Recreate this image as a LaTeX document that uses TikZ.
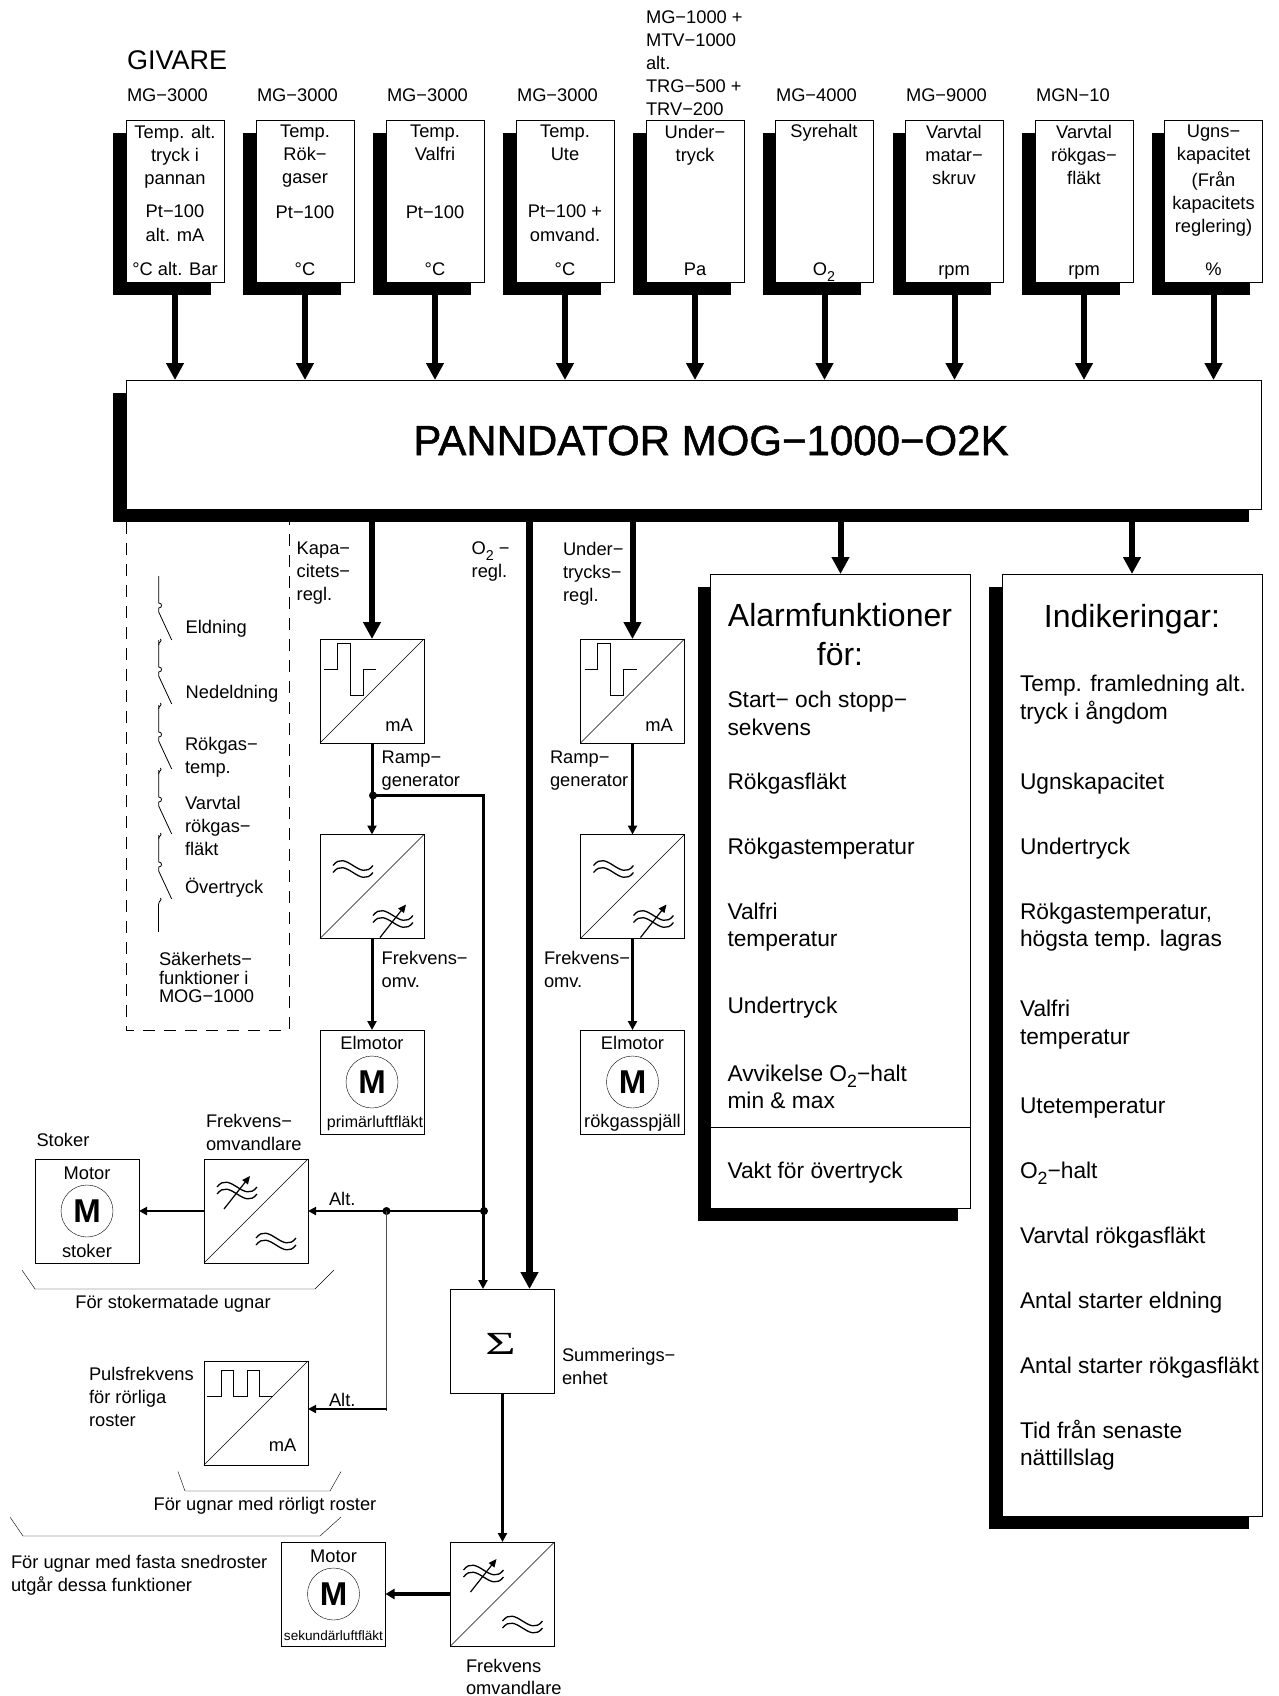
\documentclass[tikz,border=0pt]{standalone}
\usepackage{fontspec}
\setmainfont{Liberation Sans}
\newfontfamily\serifsym{Liberation Serif}
\newfontfamily\titlefont[FakeBold=1.2]{Liberation Sans}
\usetikzlibrary{arrows.meta,shadows}
\newcommand\Otwo{O\raisebox{-.28em}{\scalebox{.78}{2}}}
\tikzset{
  x=1pt,y=-1pt,
  line width=1pt,
  tx/.style 2 args={font=\fontsize{#1}{#2}\selectfont,inner sep=0pt,outer sep=0pt,
     yshift={#2*0.7pt},execute at begin node={\rule{0pt}{\dimexpr #2pt*7/10\relax}}},
  t18/.style={tx={18.3}{23}},
  t22/.style={tx={22.75}{27.4}},
  lt/.style={anchor=north west,align=left},
  ct/.style={anchor=north,align=center},
  ml/.style={yshift=-3.3pt},
  plain/.style={draw,fill=white,inner sep=0pt,outer sep=0pt,anchor=north west},
  sbox/.style={plain,general shadow={fill=black,shadow xshift=-13pt,shadow yshift=-13pt}},
  sq/.style={plain,minimum width=104pt,minimum height=104pt},
  top/.style={sbox,minimum width=98pt,minimum height=162pt},
  big/.style={line width=6pt,-{Triangle[length=17pt,width=17pt]}},
  huge/.style={line width=7pt,-{Triangle[length=17pt,width=17pt]}},
  mid/.style={line width=3pt,-{Triangle[length=9pt,width=9pt]}},
  small/.style={line width=2pt,-{Triangle[length=8pt,width=8pt]}},
  dot/.style={circle,fill=black,inner sep=0pt,minimum size=8pt},
  motor/.style={circle,draw,inner sep=0pt,minimum size=52pt,font=\fontsize{33}{33}\bfseries\selectfont},
  wave/.style={line width=1.3pt},
}
% symbols, placed relative to the converter box named #1
\newcommand\diag[1]{\draw (#1.south west) -- (#1.north east);}
\newcommand\waves[3]{\begin{scope}[shift={(#1.north west)},wave]
  \draw (#2,#3) .. controls (#2+13,#3-17) and (#2+27,#3+17) .. (#2+40,#3);
  \draw (#2,#3+7) .. controls (#2+13,#3-10) and (#2+27,#3+24) .. (#2+40,#3+7);
\end{scope}}
\newcommand\varwaves[3]{\waves{#1}{#2}{#3}
  \begin{scope}[shift={(#1.north west)}]
  \draw[line width=1.2pt,-{Triangle[length=8pt,width=7pt]}] (#2+7,#3+22) -- (#2+33,#3-11);
\end{scope}}
\newcommand\stepsym[1]{\begin{scope}[shift={(#1.north west)}]
  \draw (4,30)--(17,30)--(17,4)--(30,4)--(30,56.5)--(43,56.5)--(43,30)--(56,30);
\end{scope}}
\begin{document}
\begin{tikzpicture}
\useasboundingbox (0,0) rectangle (1278,1696);

% main computer
\node[sbox,minimum width=1135.5pt,minimum height=129pt] (main) at (126,380) {};
\node[tx={42}{50},ct,font=\fontsize{42}{50}\titlefont\selectfont] (maintxt) at (711,455) {PANNDATOR MOG−1000−O2K};

% sensors
\foreach \n/\x in {b1/126,b2/256,b3/386,b4/516,b5/646,b6/775.5,b7/905.5,b8/1035,b9/1164.5}{
  \node[top] (\n) at (\x,120) {};
  \draw[big] (\n.south) -- (\n.south |- main.north);
}
\node[tx={27}{32},lt] (givare) at (127,70) {GIVARE};
\node[t18,lt] (l1) at (127,102) {MG−3000};
\node[t18,lt] (l2) at (257,102) {MG−3000};
\node[t18,lt] (l3) at (387,102) {MG−3000};
\node[t18,lt] (l4) at (517,102) {MG−3000};
\node[t18,lt,ml,yshift=-1pt] (l5) at (646,23) {MG−1000 +\\MTV−1000\\alt.\\TRG−500 +\\TRV−200};
\node[t18,lt] (l6) at (776,102) {MG−4000};
\node[t18,lt] (l7) at (906,102) {MG−9000};
\node[t18,lt] (l8) at (1036,102) {MGN−10};

\node[t18,ct,ml] (b1a) at (175,138) {Temp. alt.\\tryck i\\pannan};
\node[tx={18.3}{24},ct,ml] (b1b) at (175,218.5) {Pt−100\\alt. mA};
\node[t18,ct] (b1c) at (175,276) {°C alt. Bar};
\node[t18,ct,ml] (b2a) at (305,138) {Temp.\\Rök−\\gaser};
\node[t18,ct] (b2b) at (305,218.5) {Pt−100};
\node[t18,ct] (b2c) at (305,276) {°C};
\node[t18,ct,ml] (b3a) at (435,138) {Temp.\\Valfri};
\node[t18,ct] (b3b) at (435,218.5) {Pt−100};
\node[t18,ct] (b3c) at (435,276) {°C};
\node[t18,ct,ml] (b4a) at (565,138) {Temp.\\Ute};
\node[tx={18.3}{24},ct,ml] (b4b) at (565,218.5) {Pt−100 +\\omvand.};
\node[t18,ct] (b4c) at (565,276) {°C};
\node[t18,ct,ml] (b5a) at (695,138) {Under−\\tryck};
\node[t18,ct] (b5c) at (695,276) {Pa};
\node[t18,ct] (b6a) at (824,138) {Syrehalt};
\node[t18,ct] (b6c) at (824,276) {\Otwo};
\node[t18,ct,ml] (b7a) at (954,138) {Varvtal\\matar−\\skruv};
\node[t18,ct] (b7c) at (954,276) {rpm};
\node[t18,ct,ml] (b8a) at (1084,138) {Varvtal\\rökgas−\\fläkt};
\node[t18,ct] (b8c) at (1084,276) {rpm};
\node[t18,ct,ml] (b9a) at (1213.5,138) {Ugns−\\kapacitet};
\node[t18,ct,ml] (b9b) at (1213.5,184.7) {(Från\\kapacitets\\reglering)};
\node[t18,ct] (b9c) at (1213.5,276) {\%};

% safety functions
\draw[dash pattern=on 12pt off 9pt] (126,522) -- (126,1030) -- (289,1030) -- (289,522);
\foreach \y in {612,676,741,806,871}{
  \draw[line width=.8pt] (158.7,\y-36) -- (158.7,\y-9)
     .. controls (162.5,\y-9) and (162.5,\y-4) .. (158.7,\y-4) -- (158.7,\y) -- (171.7,\y+28);
  \draw[line width=.8pt] (158.7,\y+33) .. controls (158.7,\y+29) and (162.5,\y+30) .. (160.5,\y+27);
}
\draw[line width=.8pt] (158.7,904) -- (158.7,932);
\node[t18,lt] (s1) at (185.7,633.5) {Eldning};
\node[t18,lt] (s2) at (185.7,698) {Nedeldning};
\node[t18,lt,ml] (s3) at (185,750) {Rökgas−\\temp.};
\node[t18,lt,ml] (s4) at (185,809) {Varvtal\\rökgas−\\fläkt};
\node[t18,lt] (s5) at (185,893) {Övertryck};
\node[tx={18.3}{18.5},lt] (s6) at (159,965.5) {Säkerhets−\\funktioner i\\MOG−1000};

% left regulation chain
\node[sq] (a1) at (320,639) {};
\diag{a1}\stepsym{a1}
\node[t18,anchor=north] (a1t) at (399,731) {mA};
\node[sq] (a2) at (320,834.5) {};
\diag{a2}\waves{a2}{13}{31}\varwaves{a2}{53}{81}
\node[sq] (a3) at (320,1030) {};
\node[t18,anchor=north] (a3t) at (372,1049) {Elmotor};
\node[motor] (a3m) at (372,1082) {M};
\node[tx={16}{20},anchor=north] (a3b) at (375,1127) {primärluftfläkt};
\draw[big] (main.south -| a1.north) -- (a1.north);
\node[dot] (j1) at (373,795.5) {};
\draw[mid] (a1.south) -- (a2.north);
\draw[mid] (a2.south) -- (a3.north);
\node[t18,lt,ml] (kapa) at (296.7,555) {Kapa−\\citets−\\regl.};
\node[t18,lt,ml] (ramp1) at (381.7,764) {Ramp−\\generator};
\node[t18,lt,ml] (frek1) at (381.7,964) {Frekvens−\\omv.};

% O2 regulation
\node[t18,lt,ml] (o2) at (471.7,555) {\Otwo{} −\\regl.};

% right regulation chain
\node[sq] (c1) at (580.5,639) {};
\diag{c1}\stepsym{c1}
\node[t18,anchor=north] (c1t) at (659,731) {mA};
\node[sq] (c2) at (580.5,834.5) {};
\diag{c2}\waves{c2}{13}{31}\varwaves{c2}{53}{81}
\node[sq] (c3) at (580.5,1030) {};
\node[t18,anchor=north] (c3t) at (632.5,1049) {Elmotor};
\node[motor] (c3m) at (632.5,1082) {M};
\node[t18,anchor=north] (c3b) at (632.5,1127) {rökgasspjäll};
\draw[big] (main.south -| c1.north) -- (c1.north);
\draw[mid] (c1.south) -- (c2.north);
\draw[mid] (c2.south) -- (c3.north);
\node[t18,lt,ml] (under) at (563,555) {Under−\\trycks−\\regl.};
\node[t18,lt,ml] (ramp2) at (550,764) {Ramp−\\generator};
\node[t18,lt,ml] (frek2) at (544,964) {Frekvens−\\omv.};

% summing unit
\node[sq] (sum) at (450.5,1289) {};
\node[inner sep=0pt,font=\fontsize{52}{52}\serifsym\selectfont] (sigma) at (500.5,1344) {\scalebox{1}[.62]{Σ}};
\coordinate (sumA) at (483,1289);
\coordinate (sumB) at (529.5,1289);
\coordinate (corner) at (483,795.5);
\node[dot] (j2) at (484,1211) {};
\draw[mid] (j1.center) -- (corner) -- (sumA);
\draw[huge] (main.south -| sumB) -- (sumB);
\node[t18,lt,ml] (sumt) at (562,1361) {Summerings−\\enhet};

% stoker branch
\node[sq] (f1) at (204,1159) {};
\diag{f1}\varwaves{f1}{13}{28}\waves{f1}{52}{79}
\node[sq] (m1) at (35,1159) {};
\node[t18,anchor=north] (m1t) at (87,1179) {Motor};
\node[motor] (m1m) at (87,1211) {M};
\node[t18,anchor=north] (m1b) at (87,1257) {stoker};
\node[dot] (j3) at (386.5,1211) {};
\draw[line width=2.5pt] (j2.center) -- (j3.center);
\draw[small] (j3.center) -- (f1.east);
\draw[small] (f1.west) -- (m1.east);
\node[t18,lt] (stoker) at (36.5,1146) {Stoker};
\node[t18,lt,ml] (frek3) at (206,1127) {Frekvens−\\omvandlare};
\node[t18,lt] (alt1) at (329,1205.5) {Alt.};
\draw (22,1270) -- (35,1289) -- (315,1289) -- (334,1270);
\node[t18,anchor=north] (stokfor) at (173,1308) {För stokermatade ugnar};

% pulse branch
\node[sq] (p1) at (204,1361) {};
\diag{p1}
\begin{scope}[shift={(p1.north west)}]
  \draw (3,35.6)--(17,35.6)--(17,9)--(29.5,9)--(29.5,35.6)--(43,35.6)--(43,9)--(55.5,9)--(55.5,35.6)--(68.5,35.6);
\end{scope}
\node[t18,anchor=north] (p1t) at (282.5,1451.7) {mA};
\coordinate (p1in) at (386.5,1409);
\draw[line width=1.6pt,black!70] (j3.center) -- (386.5,1411);
\draw[small] (p1in) -- (p1.east |- p1in);
\node[t18,lt] (alt2) at (329,1406) {Alt.};
\node[t18,lt,ml] (puls) at (89,1380.5) {Pulsfrekvens\\för rörliga\\roster};
\draw (178,1471.5) -- (185,1491) -- (330,1491) -- (341,1471.5);
\node[t18,anchor=north] (pfor) at (265,1510) {För ugnar med rörligt roster};
\draw (10,1517) -- (23,1536) -- (320,1536) -- (341,1517);
\node[t18,lt,ml] (fasta) at (11,1568) {För ugnar med fasta snedroster\\utgår dessa funktioner};

% output branch
\node[sq] (f2) at (450.5,1542) {};
\diag{f2}\varwaves{f2}{13}{28}\waves{f2}{52}{79}
\node[sq] (m2) at (281.5,1542) {};
\node[t18,anchor=north] (m2t) at (333.5,1562) {Motor};
\node[motor] (m2m) at (333.5,1594) {M};
\node[tx={13.6}{18},anchor=north] (m2b) at (333.5,1640) {sekundärluftfläkt};
\draw[mid] (sum.south) -- (f2.north);
\draw[line width=4pt,-{Triangle[length=9pt,width=10pt]}] (f2.west) -- (m2.east);
\node[tx={18.3}{22},lt,ml] (frek4) at (466,1671.5) {Frekvens\\omvandlare};

% alarm box
\node[sbox,minimum width=260pt,minimum height=634pt] (alarm) at (710.5,574) {};
\draw[big] (main.south -| alarm.north) -- (alarm.north);
\draw (alarm.west |- 0,1127) -- (alarm.east |- 0,1127);
\node[tx={32}{39.5},ct,yshift=-5pt] (altitle) at (840,625.5) {Alarmfunktioner\\för:};
\node[t22,lt,ml] (al1) at (727.5,707) {Start− och stopp−\\sekvens};
\node[t22,lt] (al2) at (727.5,789) {Rökgasfläkt};
\node[t22,lt] (al3) at (727.5,854) {Rökgastemperatur};
\node[t22,lt,ml] (al4) at (727.5,918.5) {Valfri\\temperatur};
\node[t22,lt] (al5) at (727.5,1013) {Undertryck};
\node[t22,lt,ml] (al6) at (727.5,1080.5) {Avvikelse \Otwo−halt\\min \& max};
\node[t22,lt] (al7) at (727.5,1178) {Vakt för övertryck};

% indications box
\node[sbox,minimum width=260pt,minimum height=942pt] (ind) at (1002,574) {};
\draw[big] (main.south -| ind.north) -- (ind.north);
\node[tx={32}{39.5},ct,yshift=-2pt] (intitle) at (1132,625.5) {Indikeringar:};
\node[t22,lt,ml] (in1) at (1020,691) {Temp. framledning alt.\\tryck i ångdom};
\node[t22,lt] (in2) at (1020,789) {Ugnskapacitet};
\node[t22,lt] (in3) at (1020,854) {Undertryck};
\node[t22,lt,ml] (in4) at (1020,918.5) {Rökgastemperatur,\\högsta temp. lagras};
\node[t22,lt,ml] (in5) at (1020,1016) {Valfri\\temperatur};
\node[t22,lt] (in6) at (1020,1113.5) {Utetemperatur};
\node[t22,lt] (in7) at (1020,1178.5) {\Otwo−halt};
\node[t22,lt] (in8) at (1020,1243) {Varvtal rökgasfläkt};
\node[t22,lt] (in9) at (1020,1308) {Antal starter eldning};
\node[t22,lt] (in10) at (1020,1373) {Antal starter rökgasfläkt};
\node[t22,lt,ml] (in11) at (1020,1436) {Tid från senaste\\nättillslag};
\end{tikzpicture}
\end{document}
